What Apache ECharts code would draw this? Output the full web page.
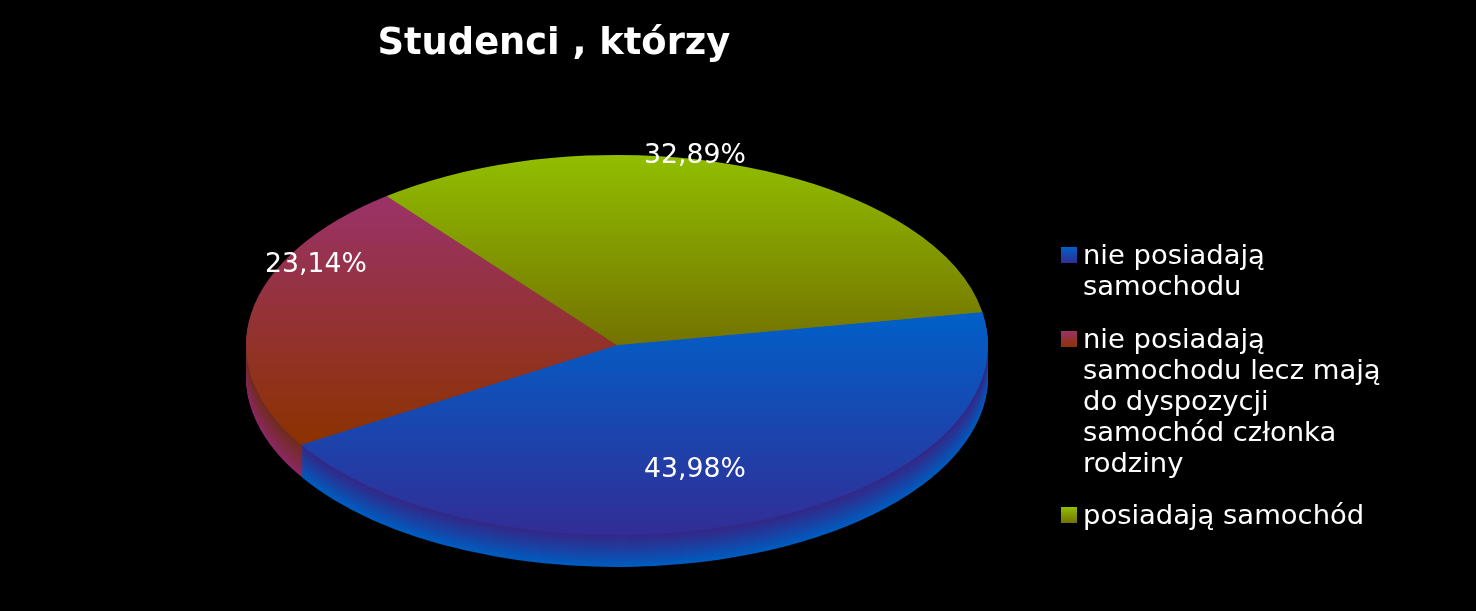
<!DOCTYPE html>
<html><head><meta charset="utf-8">
<style>html,body{margin:0;padding:0;background:#000}#c{width:1476px;height:611px}</style>
<script src="https://cdn.jsdelivr.net/npm/echarts@6/dist/echarts.min.js"></script>
</head><body><div id="c"></div>
<script>
var titleText = 'Studenci , którzy';
var categories = ['nie posiadają\nsamochodu', 'nie posiadają\nsamochodu lecz mają\ndo dyspozycji\nsamochód członka\nrodziny', 'posiadają samochód'];
var shares = [43.98, 23.14, 32.89];

var CX = 617, CY = 345, RX = 371, RY = 190, DEPTH = 32, START_DEG = -10;
var FONT = '"DejaVu Sans"', FS = 26.7, LEG_FS = 27.4, LH = 31;
var labelAt = [[695, 470], [316, 265], [695, 156]];
var legendFirstLineCenter = [257, 341, 517];
var topColors = [['#0060c8', '#322d96'], ['#9b3269', '#8c3200'], ['#91be00', '#737300']];
var sideColors = [[[52, 40, 135], [0, 92, 192]], [[112, 44, 30], [140, 40, 100]], [[110, 110, 0], [140, 180, 0]]];

function grad(c) {
  return new echarts.graphic.LinearGradient(0, 0, 0, 1, [{offset: 0, color: c[0]}, {offset: 1, color: c[1]}]);
}
function swatchGrad(c) {
  return new echarts.graphic.LinearGradient(0, 0, 0, 1, [{offset: 0, color: c[0]}, {offset: 0.8, color: c[1]}, {offset: 1, color: c[1]}]);
}
var total = shares.reduce(function (a, b) { return a + b; }, 0);
function angleBefore(k) {
  var s = 0;
  for (var i = 0; i < k; i++) s += shares[i];
  return (START_DEG + s / total * 360) * Math.PI / 180;
}
function lines(k) { return categories[k].split('\n').length; }

var series = categories.map(function (name, k) {
  return {
    type: 'custom', name: name, coordinateSystem: 'none', silent: true,
    itemStyle: {color: grad(topColors[k])},
    data: [shares[k]],
    renderItem: function (params, api) {
      var a0 = angleBefore(k), a1 = angleBefore(k + 1), kids = [];
      var sc = RY / RX, c = sideColors[k];
      for (var i = DEPTH; i > 0; i--) {
        var t = Math.pow(i / DEPTH, 1.1);
        var col = 'rgb(' + [0, 1, 2].map(function (j) { return Math.round(c[0][j] + (c[1][j] - c[0][j]) * t); }).join(',') + ')';
        kids.push({type: 'sector', x: CX, y: CY + i, scaleY: sc, z2: 1 + DEPTH - i,
          shape: {cx: 0, cy: 0, r0: 0, r: RX, startAngle: a0, endAngle: a1, clockwise: true},
          style: {fill: col}});
      }
      kids.push({type: 'sector', x: CX, y: CY, scaleY: sc, z2: 100,
        shape: {cx: 0, cy: 0, r0: 0, r: RX, startAngle: a0, endAngle: a1, clockwise: true},
        style: {fill: grad(topColors[k])}});
      kids.push({type: 'text', x: labelAt[k][0], y: labelAt[k][1], z2: 200,
        style: {text: api.value(0).toFixed(2).replace('.', ',') + '%', fill: '#fff',
          font: FS + 'px ' + FONT, align: 'center', verticalAlign: 'middle'}});
      return {type: 'group', children: kids};
    }
  };
});

var legends = categories.map(function (name, k) {
  var n = lines(k);
  return {
    left: 1061, top: legendFirstLineCenter[k] - LH / 2 - (n - 1) * LH, orient: 'vertical', selectedMode: false, padding: 0,
    itemWidth: 17, itemHeight: 20, itemGap: 0, symbolKeepAspect: false,
    icon: 'path://M0 0H16V16H0Z M17 20H16.99V19.99Z',
    data: [{name: name, itemStyle: {color: swatchGrad(topColors[k])}}],
    formatter: function (v) { return new Array(n).join('\n') + v; },
    textStyle: {color: '#fff', fontFamily: FONT, fontSize: LEG_FS, lineHeight: LH}
  };
});

var chart = echarts.init(document.getElementById('c'), null, {renderer: 'canvas'});
chart.setOption({
  backgroundColor: '#000',
  animation: false,
  title: {text: titleText, left: 377.5, top: 26, padding: 0,
    textStyle: {color: '#fff', fontFamily: FONT, fontWeight: 'bold', fontSize: 36.8}},
  tooltip: {show: false},
  legend: legends,
  series: series
});
</script></body></html>
